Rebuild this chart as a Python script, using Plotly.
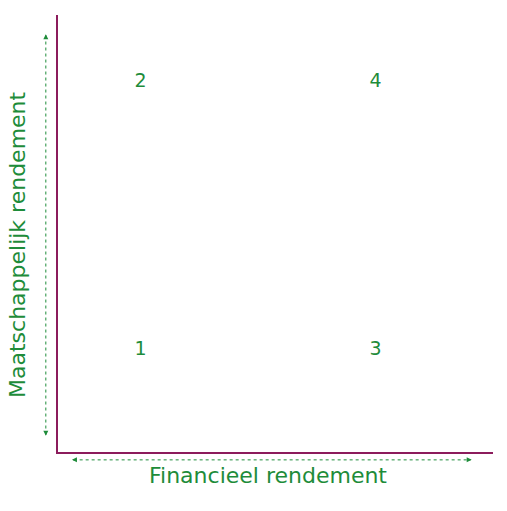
import plotly.graph_objects as go

labels = ["1", "2", "3", "4"]
fin = [0.19, 0.19, 0.73, 0.73]
maat = [0.233, 0.847, 0.233, 0.847]

green = "#1e8c3a"
axis_col = "#8c1c5c"
font = "DejaVu Sans"

fig = go.Figure(go.Scatter(
    x=fin, y=maat, mode="text", text=labels,
    textfont=dict(family=font, size=19, color=green),
    hoverinfo="skip"
))

fig.update_xaxes(range=[0, 1], showline=True, linecolor=axis_col, linewidth=2,
                 showgrid=False, zeroline=False, showticklabels=False, ticks="")
fig.update_yaxes(range=[0, 1], showline=True, linecolor=axis_col, linewidth=2,
                 showgrid=False, zeroline=False, showticklabels=False, ticks="")

# dotted arrows
shapes = [
    dict(type="line", xref="paper", yref="paper", x0=-0.028, x1=-0.028, y0=0.04, y1=0.953,
         line=dict(color=green, width=1, dash="dot")),
    dict(type="line", xref="paper", yref="paper", x0=0.036, x1=0.948, y0=-0.018, y1=-0.018,
         line=dict(color=green, width=1, dash="dot")),
]
heads = []
for (x, y, ax, ay) in [(-0.028, 0.956, 0, 6), (-0.028, 0.037, 0, -6),
                       (0.032, -0.018, 6, 0), (0.951, -0.018, -6, 0)]:
    heads.append(dict(xref="paper", yref="paper", x=x, y=y, ax=ax, ay=ay,
                      showarrow=True, arrowhead=2, arrowsize=1, arrowwidth=1,
                      arrowcolor=green, text=""))

titles = [
    dict(xref="paper", yref="paper", x=0.483, y=-0.088, text="Financieel rendement",
         showarrow=False, font=dict(family=font, size=22, color=green)),
    dict(xref="paper", yref="paper", x=-0.125, y=0.474, text="Maatschappelijk rendement",
         textangle=-90, showarrow=False, font=dict(family=font, size=22, color=green)),
]

fig.update_layout(
    width=507, height=511,
    margin=dict(l=50, r=22, t=7, b=67),
    plot_bgcolor="white", paper_bgcolor="white",
    showlegend=False,
    shapes=shapes,
    annotations=heads + titles,
)

fig.write_html("out.html")
